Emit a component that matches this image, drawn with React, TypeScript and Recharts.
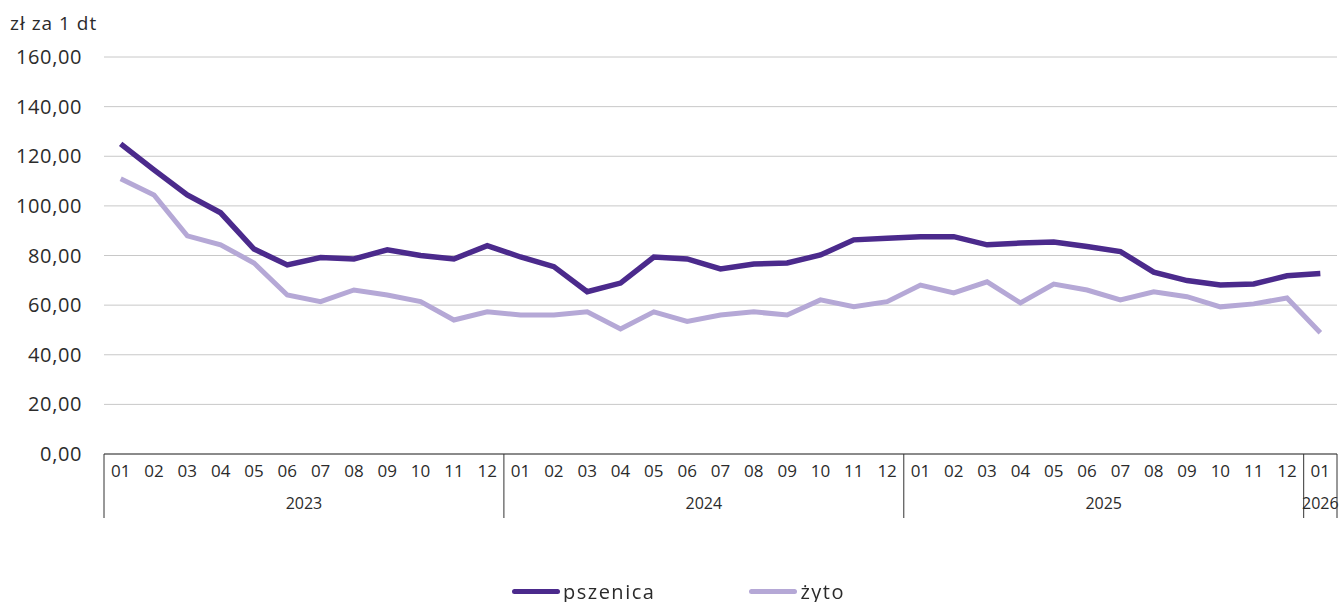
import React from 'react';
import { LineChart, Line, XAxis, YAxis, CartesianGrid, Legend } from 'recharts';

const years = ['2023', '2024', '2025', '2026'];
const monthsInYear = [12, 12, 12, 1];
const monthNames = ['01', '02', '03', '04', '05', '06', '07', '08', '09', '10', '11', '12'];

const pszenica = [
  125.0, 114.5, 104.4, 97.2, 82.6, 76.2, 79.2, 78.6, 82.3, 80.0, 78.6, 84.0,
  79.4, 75.5, 65.4, 68.9, 79.4, 78.6, 74.6, 76.6, 77.0, 80.2, 86.3, 87.0,
  87.6, 87.6, 84.3, 85.0, 85.4, 83.6, 81.6, 73.3, 69.9, 68.1, 68.5, 71.8,
  72.7,
];
const zyto = [
  110.9, 104.4, 87.9, 84.3, 77.0, 64.1, 61.4, 66.1, 64.1, 61.4, 54.0, 57.3,
  56.0, 56.0, 57.3, 50.4, 57.3, 53.4, 56.0, 57.3, 56.0, 62.1, 59.4, 61.4,
  68.1, 64.9, 69.4, 60.9, 68.5, 66.1, 62.1, 65.4, 63.4, 59.3, 60.5, 62.9,
  48.9,
];
const yTicks = [0, 20, 40, 60, 80, 100, 120, 140, 160];

const data: any[] = [];
years.forEach((yr, yi) => {
  for (let k = 0; k < monthsInYear[yi]; k++) {
    data.push({ m: monthNames[k], year: yr, n: monthsInYear[yi] });
  }
});
data.forEach((d, i) => {
  d.pszenica = pszenica[i];
  d.zyto = zyto[i];
});

const W = 1341;
const H = 602;
const M = { top: 57, right: 4, left: 0, bottom: 52 };
const Y_W = 104;
const BAND = (W - M.left - M.right - Y_W) / data.length;
const FONT = '"Open Sans", sans-serif';
const TXT = '#2b2b2b';

const MonthTick = (props: any) => {
  const { x, y, payload } = props;
  const i = payload.index;
  const row = data[i];
  if (!row) return null;
  return (
    <g>
      <text x={x} y={y + 23} textAnchor="middle" fontSize={17} fill={TXT} fontFamily={FONT}>
        {row.m}
      </text>
      {row.m === '01' && (
        <>
          <line x1={x - BAND / 2} x2={x - BAND / 2} y1={y} y2={y + 64} stroke="#333" strokeWidth={1} />
          <text x={x - BAND / 2 + (row.n * BAND) / 2} y={y + 55} textAnchor="middle" fontSize={16} fill={TXT} fontFamily={FONT}>
            {row.year}
          </text>
        </>
      )}
      {i === data.length - 1 && (
        <line x1={x + BAND / 2} x2={x + BAND / 2} y1={y} y2={y + 64} stroke="#333" strokeWidth={1} />
      )}
    </g>
  );
};

const LegendBox = () => (
  <div style={{ display: 'flex', alignItems: 'center', height: 30, fontFamily: FONT, fontSize: 20, letterSpacing: 1.5, color: TXT }}>
    <div style={{ width: 48, height: 5, borderRadius: 3, background: '#4b2a8c', marginRight: 3 }} />
    <span>pszenica</span>
    <div style={{ width: 48, height: 5, borderRadius: 3, background: '#b5a8d6', marginLeft: 94, marginRight: 3 }} />
    <span>żyto</span>
  </div>
);

export default function App() {
  return (
    <div style={{ position: 'fixed', left: 0, top: 0, width: W, height: H, background: '#fff' }}>
      <div style={{ position: 'absolute', left: 10, top: 10, fontFamily: FONT, fontSize: 19, letterSpacing: 1, color: TXT }}>
        zł za 1 dt
      </div>
      <LineChart width={W} height={H} data={data} margin={M}>
        <CartesianGrid vertical={false} stroke="#c8c8c8" strokeWidth={1} />
        <XAxis
          dataKey="m"
          interval={0}
          height={66}
          tickSize={0}
          tickMargin={0}
          tickLine={false}
          axisLine={{ stroke: '#333', strokeWidth: 1 }}
          padding={{ left: BAND / 2, right: BAND / 2 }}
          tick={<MonthTick />}
        />
        <YAxis
          domain={[0, 160]}
          ticks={yTicks}
          width={Y_W}
          tickSize={0}
          tickMargin={22}
          axisLine={false}
          tickLine={false}
          tick={{ fontSize: 20, fill: TXT, fontFamily: FONT, letterSpacing: 0.6 }}
          tickFormatter={(v: number) => v.toFixed(2).replace('.', ',')}
        />
        <Legend
          verticalAlign="bottom"
          content={<LegendBox />}
          wrapperStyle={{ position: 'absolute', left: 512, top: 576, width: 420, height: 30, bottom: 'auto' }}
        />
        <Line type="linear" dataKey="zyto" name="żyto" stroke="#b5a8d6" strokeWidth={5} dot={false} isAnimationActive={false} />
        <Line type="linear" dataKey="pszenica" name="pszenica" stroke="#4b2a8c" strokeWidth={5.5} dot={false} isAnimationActive={false} />
      </LineChart>
    </div>
  );
}
